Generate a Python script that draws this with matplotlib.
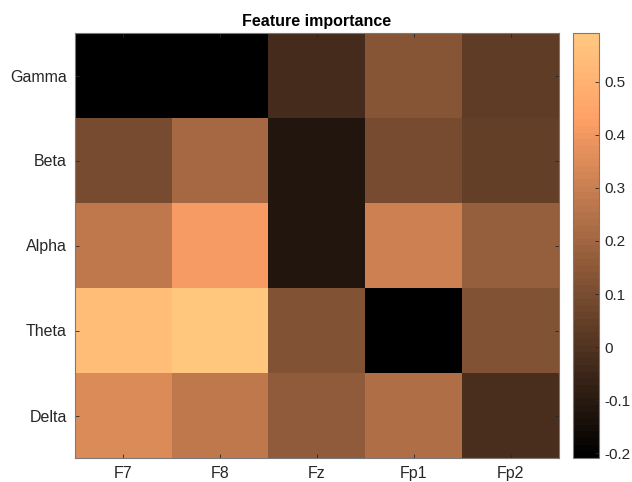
import numpy as np
import matplotlib.pyplot as plt
from matplotlib import cm
from matplotlib.colors import ListedColormap

plt.rcParams['font.family'] = ['Liberation Sans', 'DejaVu Sans']

channels = ['F7', 'F8', 'Fz', 'Fp1', 'Fp2']
bands = ['Gamma', 'Beta', 'Alpha', 'Theta', 'Delta']

# importance per band (rows) and channel (columns)
gamma = [-0.205, -0.203, -0.025, 0.135, 0.039]
beta = [0.095, 0.207, -0.113, 0.095, 0.047]
alpha = [0.271, 0.407, -0.113, 0.311, 0.167]
theta = [0.543, 0.592, 0.127, -0.209, 0.127]
delta = [0.351, 0.271, 0.159, 0.231, -0.009]

imp = np.array([gamma, beta, alpha, theta, delta])

# 64-level copper like the default matlab map
copper64 = ListedColormap(cm.copper(np.linspace(0, 1, 64)))

fig = plt.figure(figsize=(6.32, 4.82), dpi=100)
ax = fig.add_axes([75/632, 1 - 458/482, (559 - 75)/632, (458 - 33)/482])
cax = fig.add_axes([573/632, 1 - 458/482, (599 - 573)/632, (458 - 33)/482])

im = ax.imshow(imp, cmap=copper64, aspect='auto', interpolation='nearest',
               vmin=imp.min(), vmax=imp.max())

ax.set_xticks(range(len(channels)))
ax.set_xticklabels(channels)
ax.set_yticks(range(len(bands)))
ax.set_yticklabels(bands)
ax.tick_params(direction='in', length=3, top=True, right=True,
               labelsize=11.5, colors='#262626', width=0.6)
ax.tick_params(axis='x', pad=6)
ax.tick_params(axis='y', pad=6)
for s in ax.spines.values():
    s.set_color('#7a7a7a')
    s.set_linewidth(0.8)
ax.set_title('Feature importance', fontsize=11.5, fontweight='bold', pad=5)

cb = fig.colorbar(im, cax=cax)
cb.set_ticks([-0.2, -0.1, 0, 0.1, 0.2, 0.3, 0.4, 0.5])
cb.set_ticklabels(['-0.2', '-0.1', '0', '0.1', '0.2', '0.3', '0.4', '0.5'])
cax.tick_params(direction='in', length=3, labelsize=11, colors='#262626',
                width=0.6, pad=4)
cb.outline.set_edgecolor('#7a7a7a')
cb.outline.set_linewidth(0.8)

fig.savefig('out.png', dpi=100)
